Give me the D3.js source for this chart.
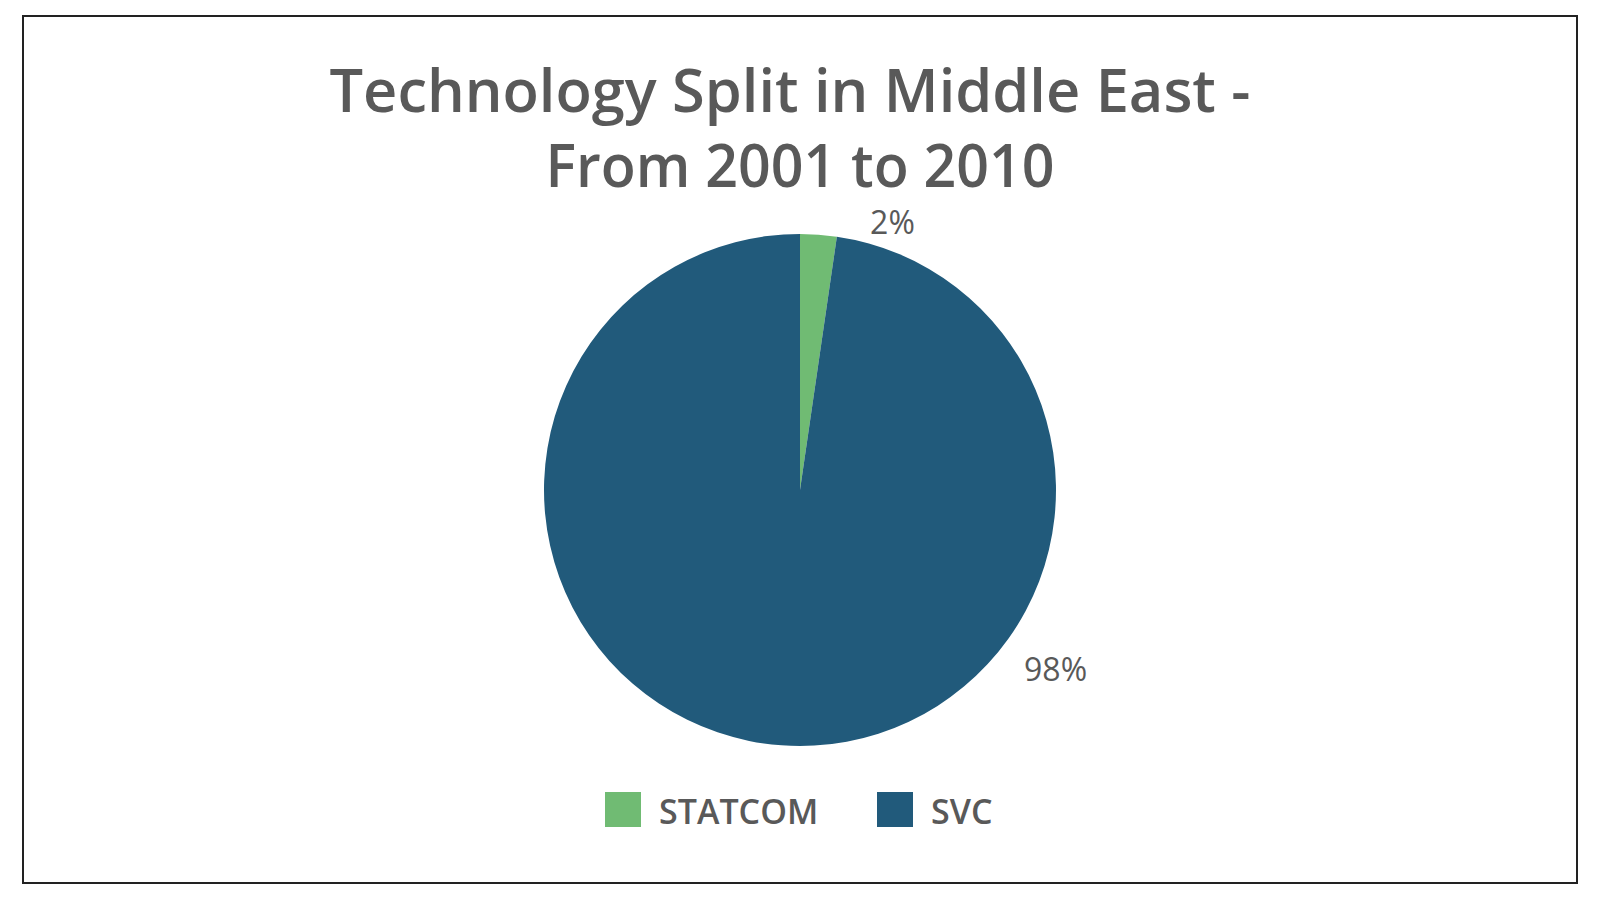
<!DOCTYPE html>
<html>
<head>
<meta charset="utf-8">
<script src="https://cdn.jsdelivr.net/npm/d3@7"></script>
<style>
  html, body { margin: 0; padding: 0; background: #fff; }
  svg { display: block; }
  text { font-family: "Open Sans", "Noto Sans", sans-serif; fill: #595959; }
</style>
</head>
<body>
<svg id="chart" width="1600" height="900"></svg>
<script>
const titleLines = ["Technology Split in Middle East -", "From 2001 to 2010"];
const categories = ["STATCOM", "SVC"];
const values = [2.3, 97.7];
const labels = ["2%", "98%"];
const colors = ["#70BB73", "#215A7B"];

const svg = d3.select("#chart");

svg.append("rect")
  .attr("x", 23).attr("y", 16).attr("width", 1554).attr("height", 867)
  .attr("fill", "#fff").attr("stroke", "#222").attr("stroke-width", 2);

// Title
const title = svg.append("text").attr("text-anchor", "middle")
  .attr("font-size", 59).attr("font-weight", 600);
title.append("tspan").attr("x", 790).attr("y", 112)
  .attr("textLength", 921).attr("lengthAdjust", "spacingAndGlyphs").text(titleLines[0]);
title.append("tspan").attr("x", 800).attr("y", 187)
  .attr("textLength", 509).attr("lengthAdjust", "spacingAndGlyphs").text(titleLines[1]);

// Pie
const cx = 800, cy = 490, r = 256;
const data = categories.map((c, i) => ({ cat: c, value: values[i], label: labels[i], color: colors[i] }));
const pie = d3.pie().value(d => d.value).sort(null);
const arc = d3.arc().innerRadius(0).outerRadius(r);
const arcs = pie(data);

const g = svg.append("g").attr("transform", `translate(${cx},${cy})`);
g.selectAll("path").data(arcs).join("path")
  .attr("d", arc)
  .attr("fill", d => d.data.color);

// Data labels (outside end, placed as Excel does)
const labelPolar = [
  { angle: 19 * Math.PI / 180, radius: 284 },
  { angle: 125 * Math.PI / 180, radius: 312 }
];
g.selectAll("text.lbl").data(arcs).join("text")
  .attr("class", "lbl")
  .attr("text-anchor", "middle")
  .attr("dominant-baseline", "central")
  .attr("font-size", 32)
  .attr("x", (d, i) => labelPolar[i].radius * Math.sin(labelPolar[i].angle))
  .attr("y", (d, i) => -labelPolar[i].radius * Math.cos(labelPolar[i].angle))
  .text(d => d.data.label);

// Legend
const legendX = [605, 877];
const lg = svg.append("g").selectAll("g").data(data).join("g")
  .attr("transform", (d, i) => `translate(${legendX[i]},792)`);
lg.append("rect").attr("width", 36).attr("height", 35).attr("fill", d => d.color);
lg.append("text").attr("x", 54).attr("y", 32)
  .attr("font-size", 34).attr("font-weight", 600)
  .text(d => d.cat);
</script>
</body>
</html>
